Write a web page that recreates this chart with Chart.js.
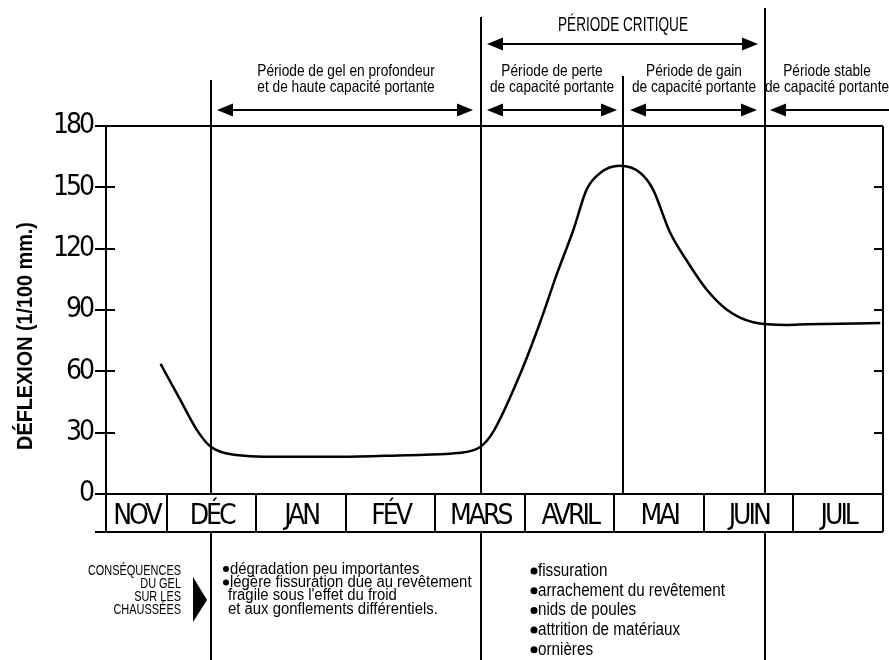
<!DOCTYPE html>
<html lang="fr">
<head>
<meta charset="utf-8">
<title>Déflexion des chaussées au cours de l'année</title>
<script src="https://cdn.jsdelivr.net/npm/chart.js@4"></script>
<style>
  html, body { margin: 0; padding: 0; background: #fff; }
  #chart { display: block; }
</style>
</head>
<body>
<canvas id="chart" width="889" height="660"></canvas>
<script>
// ─── Data ─────────────────────────────────────────────────────────────────────
// x is in months: 1 = start of December, NOV is only partly shown
const monthLabels = ['NOV', 'DÉC', 'JAN', 'FÉV', 'MARS', 'AVRIL', 'MAI', 'JUIN', 'JUIL'];
const monthEdges  = [0.32, 1, 2, 3, 4, 5, 6, 7, 8, 9];

const deflectionMonth = [0.93, 1.15, 1.34, 1.48, 1.70, 2.26, 2.93, 3.68, 4.24, 4.50, 4.64,
                         4.95, 5.17, 5.36, 5.54, 5.69, 5.84, 6.06, 6.29, 6.43, 6.62, 6.81,
                         7.03, 7.26, 7.55, 7.93, 8.15, 8.97];
const deflectionValue = [63.6, 46, 31, 23.5, 19.6, 18.2, 18.2, 19, 20, 23, 30,
                         59, 84, 108, 129, 149, 157, 160.5, 157, 149, 128, 114,
                         100, 90, 84, 82.7, 83, 83.6];

const yMin = 0, yMax = 180, yStep = 30;
const yAxisTitle = 'DÉFLEXION (1/100 mm.)';

// period boundaries (months) and their labels
const periodBounds = [1.49, 4.51, 6.10, 7.68];
const periodLabels = [
  ['Période de gel en profondeur', 'et de haute capacité portante'],
  ['Période de perte', 'de capacité portante'],
  ['Période de gain', 'de capacité portante'],
  ['Période stable', 'de capacité portante'],
];
const criticalLabel = 'PÉRIODE CRITIQUE';

const consequenceLabel = ['CONSÉQUENCES', 'DU GEL', 'SUR LES', 'CHAUSSÉES'];
const winterEffects = [
  ['dégradation peu importantes'],
  ['légère fissuration due au revêtement', 'fragile sous l\'effet du froid', 'et aux gonflements différentiels.'],
];
const springEffects = ['fissuration', 'arrachement du revêtement', 'nids de poules',
                       'attrition de matériaux', 'ornières'];

// ─── Styles ───────────────────────────────────────────────────────────────────
const FONT   = "'Liberation Sans', Arial, sans-serif";
const NARROW = "'Liberation Sans Narrow', 'DejaVu Sans Condensed', 'Liberation Sans', sans-serif";
const BAND_H = 38;

const monthCenters = monthEdges.slice(0, -1).map((m, i) => (m + monthEdges[i + 1]) / 2);

// ─── Drawing helpers ──────────────────────────────────────────────────────────
function line(ctx, x1, y1, x2, y2) {
  ctx.beginPath();
  ctx.moveTo(x1, y1);
  ctx.lineTo(x2, y2);
  ctx.stroke();
}

function text(ctx, s, x, y, size, opt = {}) {
  ctx.save();
  ctx.font = `${opt.bold ? 'bold ' : ''}${size}px ${FONT}`;
  ctx.textAlign = opt.align || 'left';
  ctx.textBaseline = 'alphabetic';
  ctx.translate(x, y);
  if (opt.rot) ctx.rotate(opt.rot);
  ctx.scale(opt.sx || 1, 1);
  ctx.fillText(s, 0, 0);
  ctx.restore();
}

function head(ctx, x, y, dir) {
  ctx.beginPath();
  ctx.moveTo(x, y);
  ctx.lineTo(x - dir * 16, y - 6.5);
  ctx.lineTo(x - dir * 16, y + 6.5);
  ctx.closePath();
  ctx.fill();
}

function arrow(ctx, x1, x2, y, left, right) {
  line(ctx, x1 + (left ? 10 : 0), y, x2 - (right ? 10 : 0), y);
  if (left)  head(ctx, x1, y, -1);
  if (right) head(ctx, x2, y, 1);
}

// ─── Plugins ──────────────────────────────────────────────────────────────────
// squeeze the tick labels (the original uses a very condensed face)
const condensedTicks = {
  id: 'condensedTicks',
  beforeDraw(chart)         { chart.ctx.letterSpacing = '-3px'; },
  beforeDatasetsDraw(chart) { chart.ctx.letterSpacing = '0px'; },
};

const framePlugin = {
  id: 'frame',
  beforeDatasetsDraw(chart) {
    const { ctx, chartArea: a, scales: { x, y } } = chart;
    const bandBottom = a.bottom + BAND_H;
    const px = m => Math.round(x.getPixelForValue(m));
    const bx = periodBounds.map(px);

    ctx.save();
    ctx.strokeStyle = '#000';
    ctx.fillStyle = '#000';
    ctx.lineWidth = 2;

    // top frame, right axis, inner tick stubs
    line(ctx, a.left, a.top, a.right, a.top);
    line(ctx, a.right, a.top, a.right, bandBottom);
    for (let v = yMin + yStep; v < yMax; v += yStep) {
      const py = Math.round(y.getPixelForValue(v));
      line(ctx, a.left, py, a.left + 9, py);
      line(ctx, a.right - 9, py, a.right, py);
    }

    // month band
    monthEdges.forEach(m => line(ctx, px(m), a.bottom, px(m), bandBottom));
    line(ctx, a.left - 11, bandBottom, a.right, bandBottom);

    // period separators (tops relative to the plot top)
    const tops  = [-46, -109, -50, -118];
    const below = [true, true, false, true];
    bx.forEach((p, i) => {
      line(ctx, p, a.top + tops[i], p, a.bottom);
      if (below[i]) line(ctx, p, bandBottom, p, chart.height);
    });

    // period labels and arrows
    const spans = [[bx[0], bx[1]], [bx[1], bx[2]], [bx[2], bx[3]], [bx[3], chart.width]];
    spans.forEach(([l, r], i) => {
      const c = (l + r) / 2;
      text(ctx, periodLabels[i][0], c, a.top - 50, 16.5, { align: 'center', sx: 0.83 });
      text(ctx, periodLabels[i][1], c, a.top - 34, 16.5, { align: 'center', sx: 0.83 });
    });
    arrow(ctx, bx[0] + 6, bx[1] - 8, a.top - 16, true, true);
    arrow(ctx, bx[1] + 6, bx[2] - 6, a.top - 16, true, true);
    arrow(ctx, bx[2] + 7, bx[3] - 8, a.top - 16, true, true);
    arrow(ctx, bx[3] + 5, chart.width + 2, a.top - 16, true, false);

    text(ctx, criticalLabel, (bx[1] + bx[3]) / 2, a.top - 95, 20, { align: 'center', sx: 0.68 });
    arrow(ctx, bx[1] + 6, bx[3] - 7, a.top - 82, true, true);

    // y axis title
    text(ctx, yAxisTitle, 32, (a.top + a.bottom) / 2 + 26, 22,
         { bold: true, align: 'center', rot: -Math.PI / 2, sx: 0.9 });

    // consequences block
    consequenceLabel.forEach((s, i) =>
      text(ctx, s, bx[0] - 30, bandBottom + 43 + i * 13, 15, { align: 'right', sx: 0.73 }));
    ctx.beginPath();
    ctx.moveTo(bx[0] - 18, bandBottom + 45);
    ctx.lineTo(bx[0] - 4, bandBottom + 68);
    ctx.lineTo(bx[0] - 18, bandBottom + 90);
    ctx.closePath();
    ctx.fill();

    let row = 0;
    winterEffects.forEach(item => {
      item.forEach((s, j) => {
        const by = bandBottom + 41.5 + row * 13.4;
        if (j === 0) {
          ctx.beginPath();
          ctx.arc(bx[0] + 15, by - 4.5, 3, 0, Math.PI * 2);
          ctx.fill();
        }
        text(ctx, s, bx[0] + (j === 0 ? 19 : 17), by, 16, { sx: 0.93 });
        row++;
      });
    });

    springEffects.forEach((s, i) => {
      const by = bandBottom + 44 + i * 19.7;
      ctx.beginPath();
      ctx.arc(bx[1] + 53, by - 5, 3.5, 0, Math.PI * 2);
      ctx.fill();
      text(ctx, s, bx[1] + 57, by, 17.5, { sx: 0.87 });
    });

    ctx.restore();
  },
};

// ─── Chart ────────────────────────────────────────────────────────────────────
new Chart(document.getElementById('chart'), {
  type: 'line',
  data: {
    datasets: [{
      data: deflectionMonth.map((m, i) => ({ x: m, y: deflectionValue[i] })),
      borderColor: '#000',
      borderWidth: 2.5,
      pointRadius: 0,
      fill: false,
      cubicInterpolationMode: 'monotone',
    }],
  },
  options: {
    responsive: false,
    animation: false,
    events: [],
    layout: { padding: { top: 126, right: 6, left: 0, bottom: 0 } },
    plugins: { legend: { display: false }, tooltip: { enabled: false } },
    scales: {
      x: {
        type: 'linear',
        min: monthEdges[0],
        max: monthEdges[monthEdges.length - 1],
        border: { display: true, color: '#000', width: 2 },
        grid: { display: false, drawTicks: false },
        afterBuildTicks(s) { s.ticks = monthCenters.map(v => ({ value: v })); },
        afterFit(s) { s.height = 166; s.paddingLeft = 0; s.paddingRight = 0; },
        ticks: {
          autoSkip: false,
          maxRotation: 0,
          padding: 6,
          color: '#000',
          font: { family: NARROW, size: 28 },
          callback: (v, i) => monthLabels[i],
        },
      },
      y: {
        min: yMin,
        max: yMax,
        border: { display: true, color: '#000', width: 2 },
        grid: { drawOnChartArea: false, drawTicks: true, tickLength: 11, color: '#000', lineWidth: 2 },
        afterFit(s) { s.width = 106; s.paddingTop = 0; s.paddingBottom = 0; },
        ticks: {
          stepSize: yStep,
          padding: 3,
          color: '#000',
          font: { family: NARROW, size: 28 },
        },
      },
    },
  },
  plugins: [condensedTicks, framePlugin],
});
</script>
</body>
</html>
